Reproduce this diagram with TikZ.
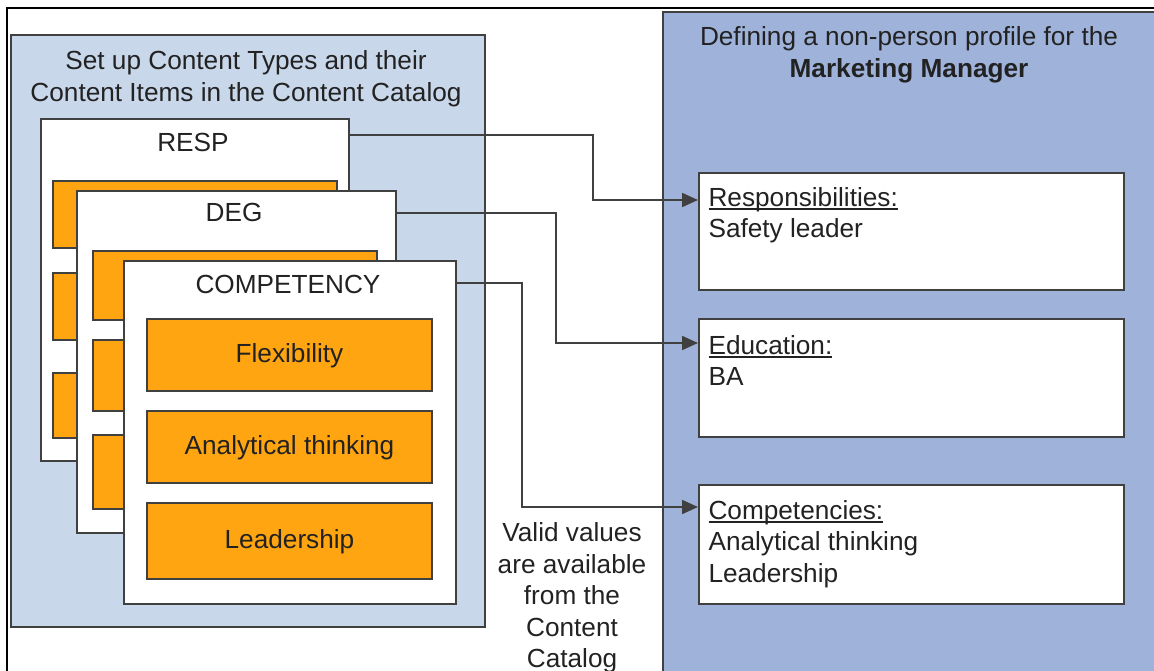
\documentclass[tikz,border=0pt]{standalone}
\usepackage{fontspec}
\setmainfont{Liberation Sans}
\usetikzlibrary{arrows.meta}
\definecolor{bdr}{HTML}{404040}
\definecolor{txtc}{HTML}{222222}
\definecolor{lpanel}{HTML}{C9D7EA}
\definecolor{rpanel}{HTML}{9FB3DA}
\definecolor{orng}{HTML}{FFA511}
\newcommand{\myul}[1]{\setbox0\hbox{#1}\rlap{\rule[-3.5pt]{\wd0}{1.3pt}}\box0}
\tikzset{
  every node/.style={font=\fontsize{26.2}{31.5}\selectfont, text=txtc},
  boxbase/.style={draw=bdr, line width=2pt, anchor=north west, inner sep=0pt},
  lpan/.style={boxbase, fill=lpanel},
  rpan/.style={boxbase, fill=rpanel},
  card/.style={boxbase, fill=white},
  item/.style={boxbase, fill=orng, text height=18.8pt, text depth=3pt},
  pbox/.style={boxbase, fill=white},
  conn/.style={draw=bdr, line width=2pt, -{Triangle[length=16pt,width=14pt]}},
  frame/.style={draw=black, line width=1.5pt},
}
\begin{document}
\begin{tikzpicture}[x=1pt,y=-1pt]
\useasboundingbox (0,0) rectangle (1154,671);
% outer frame
\draw[frame] (7,680) -- (7,8) -- (1160,8);
% left panel
\node[lpan, minimum width=474pt, minimum height=592pt] (lp) at (10,34) {};
\node[anchor=north, align=center, font=\fontsize{26.2}{32}\selectfont] (ltitle) at (246,46.5)
  {Set up Content Types and their\\Content Items in the Content Catalog};
% RESP card
\node[card, minimum width=308pt, minimum height=342pt] (resp) at (40,118) {};
\node[anchor=base] (resplbl) at (193,152) {RESP};
\node[item, minimum width=284pt, minimum height=67pt] (r1) at (52,180) {};
\node[item, minimum width=284pt, minimum height=67pt] (r2) at (52,272) {};
\node[item, minimum width=284pt, minimum height=65pt] (r3) at (52,372) {};
% DEG card
\node[card, minimum width=319pt, minimum height=342pt] (deg) at (76,190) {};
\node[anchor=base] (deglbl) at (234,222) {DEG};
\node[item, minimum width=284pt, minimum height=69pt] (d1) at (92,250) {};
\node[item, minimum width=284pt, minimum height=71pt] (d2) at (92,339) {};
\node[item, minimum width=284pt, minimum height=74pt] (d3) at (92,434) {};
% COMPETENCY card
\node[card, minimum width=332pt, minimum height=343pt] (comp) at (123,260) {};
\node[anchor=base] (complbl) at (288,293) {COMPETENCY};
\node[item, minimum width=285pt, minimum height=72pt] (flex) at (146,318) {Flexibility};
\node[item, minimum width=285pt, minimum height=72pt] (anal) at (146,410) {Analytical thinking};
\node[item, minimum width=285pt, minimum height=76pt] (lead) at (146,502) {Leadership};
% valid values text
\node[anchor=north, align=center] (valid) at (572,519)
  {Valid values\\are available\\from the\\Content\\Catalog};
% right panel
\node[rpan, minimum width=520pt, minimum height=680pt] (rp) at (662,11) {};
\node[anchor=north, align=center, font=\fontsize{26.2}{32}\selectfont] (rtitle) at (909,23)
  {Defining a non-person profile for the\\\textbf{Marketing Manager}};
% profile boxes
\node[pbox, minimum width=425pt, minimum height=117pt] (rb) at (698,172) {};
\node[anchor=north west, align=left] (rbt) at (705,183.5) {\myul{Responsibilities:}\\Safety leader};
\node[pbox, minimum width=425pt, minimum height=118pt] (eb) at (698,318) {};
\node[anchor=north west, align=left] (ebt) at (705,331.5) {\myul{Education:}\\BA};
\node[pbox, minimum width=425pt, minimum height=119pt] (cb) at (698,484) {};
\node[anchor=north west, align=left] (cbt) at (705,496.5) {\myul{Competencies:}\\Analytical thinking\\Leadership};
% connectors
\draw[conn] ([yshift=-17pt]resp.north east) -- ++(243,0) |- ([yshift=-28pt]rb.north west);
\draw[conn] ([yshift=-23pt]deg.north east) -- ++(159,0) |- ([yshift=-25pt]eb.north west);
\draw[conn] ([yshift=-23pt]comp.north east) -- ++(65,0) |- ([yshift=-23pt]cb.north west);
\end{tikzpicture}
\end{document}
